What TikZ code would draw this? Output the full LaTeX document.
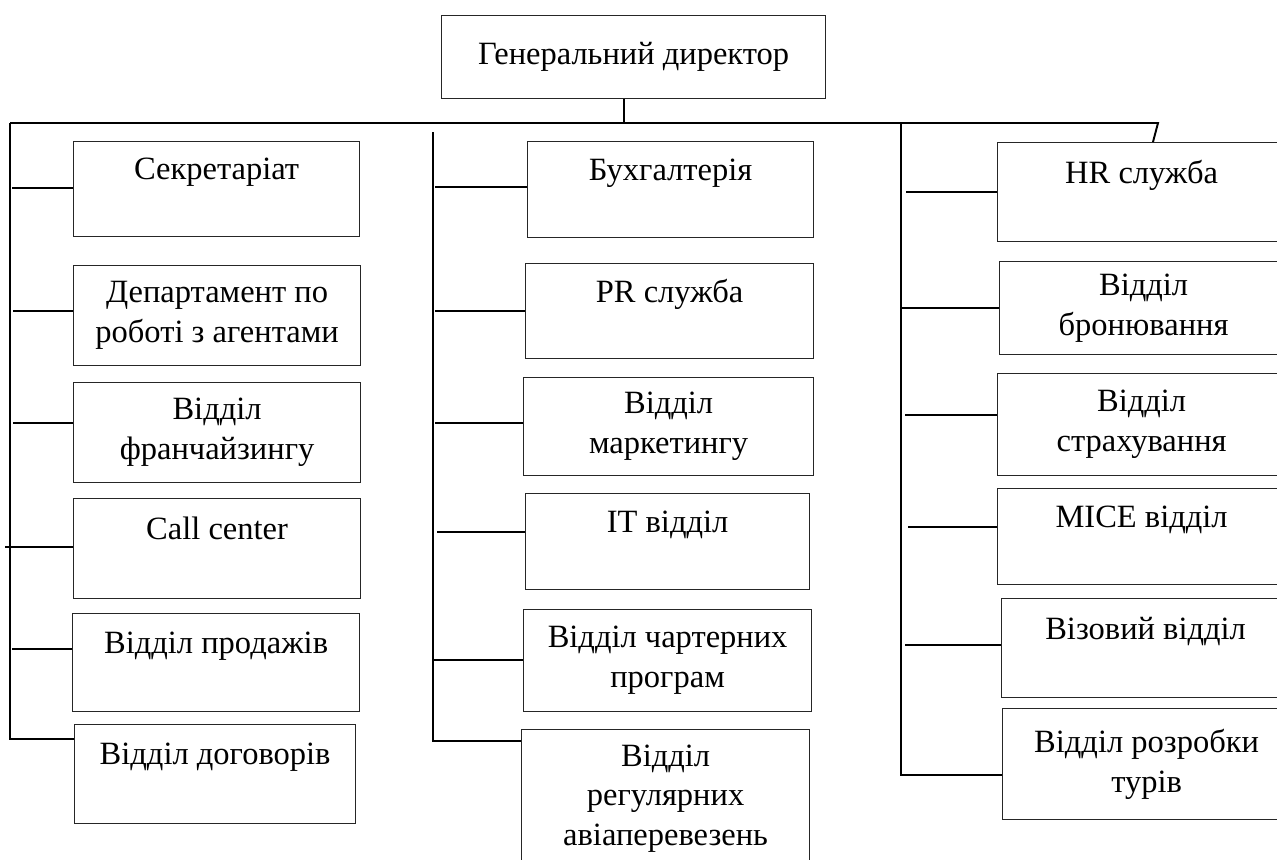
\documentclass[tikz,border=0pt]{standalone}
\usepackage{fontspec}
\setmainfont{Liberation Serif}

\tikzset{
    unit/.style={draw=black!85, line width=0.7pt, rectangle, anchor=north west,
        inner sep=0pt, align=center, minimum width=5.74cm, minimum height=1.96cm,
        font=\fontsize{18.5}{22.7}\selectfont},
    link/.style={line width=1.1pt}
}

\begin{document}
\begin{tikzpicture}[x=0.02cm, y=-0.02cm]

            % the frame
            \useasboundingbox (0,0) rectangle (1277,859);
            \path[clip] (0,0) rectangle (1277,859);

            % head
            \node[unit, minimum width=7.68cm, minimum height=1.66cm] (boss) at (441,15) {Генеральний директор};

            % left column
            \node[unit, minimum width=5.72cm, minimum height=1.9cm] (sec) at (73,141) {Секретаріат\\~};
            \node[unit, minimum height=2cm] (dep) at (73,265) {Департамент по\\роботі з агентами};
            \node[unit, minimum height=2cm] (fran) at (73,382) {Відділ\\франчайзингу};
            \node[unit, minimum height=2cm] (call) at (73,498) {Call center\\~};
            \node[unit] (prod) at (72,613) {Відділ продажів\\~};
            \node[unit, minimum width=5.62cm, minimum height=1.98cm] (dog) at (74,724) {Відділ договорів\\~};

            % middle column
            \node[unit, minimum width=5.72cm, minimum height=1.92cm] (buh) at (527,141) {Бухгалтерія\\~};
            \node[unit, minimum width=5.76cm, minimum height=1.9cm] (pr) at (525,263) {PR служба\\~};
            \node[unit, minimum width=5.8cm] (mark) at (523,377) {Відділ\\маркетингу};
            \node[unit, minimum width=5.68cm, minimum height=1.92cm] (it) at (525,493) {IT відділ\\~};
            \node[unit, minimum width=5.76cm, minimum height=2.04cm] (chart) at (523,609) {Відділ чартерних\\програм};
            \node[unit, minimum width=5.76cm, minimum height=2.76cm] (reg) at (521,729) {Відділ\\регулярних\\авіаперевезень};

            % right column
            \node[unit, minimum width=5.76cm, minimum height=1.98cm] (hr) at (997,142) {HR служба\\~};
            \node[unit, minimum width=5.76cm, minimum height=1.86cm] (bron) at (999,261) {Відділ\\бронювання};
            \node[unit, minimum width=5.76cm, minimum height=2.04cm] (strax) at (997,373) {Відділ\\страхування};
            \node[unit, minimum width=5.76cm, minimum height=1.92cm] (mice) at (997,488) {MICE відділ\\~};
            \node[unit, minimum width=5.76cm, minimum height=1.98cm] (viz) at (1001,598) {Візовий відділ\\~};
            \node[unit, minimum width=5.76cm, minimum height=2.22cm] (rozr) at (1002,708) {Відділ розробки\\турів};

            % the bus
            \coordinate (busL) at (10,123);
            \coordinate (busM) at (433,132);
            \coordinate (busR) at (901,123);
            \coordinate (busE) at (1158,123);
            \draw[link] ([xshift=-0.2cm]boss.south) -- ([xshift=-0.2cm]boss.south |- busL);
            \draw[link] (busL) -- (busE) -- ([xshift=3.12cm]hr.north west);
            \draw[link] (busL) |- ([yshift=0.71cm]dog.west);
            \draw[link] (busM) |- ([yshift=1.16cm]reg.west);
            \draw[link] (busR) |- ([yshift=-0.21cm]rozr.west);

            % branches
            \foreach \n/\s/\l in {sec/0.03/61, dep/0.1/60, fran/0.2/60, call/0.04/68, prod/0.28/60} {
                \draw[link] ([yshift=\s cm]\n.west) -- ++(-\l,0);
            };
            \foreach \n/\s/\l in {buh/0.06/92, pr/0/90, mark/0.08/88, it/0.2/88, chart/0.02/90} {
                \draw[link] ([yshift=\s cm]\n.west) -- ++(-\l,0);
            };
            \foreach \n/\s/\l in {hr/0/91, bron/0/98, strax/0.2/92, mice/0.2/89, viz/0.07/96} {
                \draw[link] ([yshift=\s cm]\n.west) -- ++(-\l,0);
            };
\end{tikzpicture}
\end{document}
